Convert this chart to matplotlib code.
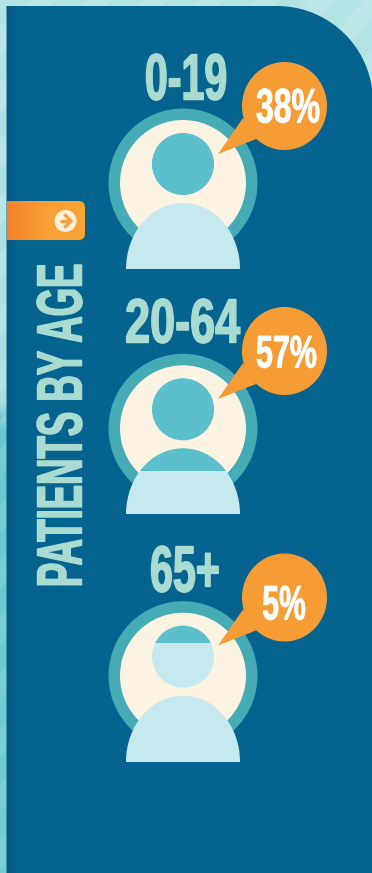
import numpy as np
import matplotlib
matplotlib.use("Agg")
import matplotlib.pyplot as plt
from matplotlib.patches import Circle, Ellipse, Rectangle, Polygon, PathPatch, FancyBboxPatch
from matplotlib.path import Path
from matplotlib.patheffects import AbstractPathEffect
from matplotlib.transforms import Affine2D, Bbox
from matplotlib.colors import LinearSegmentedColormap

# Values
age_groups = ["0-19", "20-64", "65+"]
patient_share = [38, 57, 5]
share_labels = ["38%", "57%", "5%"]
heading = "PATIENTS BY AGE"

# Palette
PANEL = "#05638f"
RING = "#45abb5"
CREAM = "#fdf3e2"
TEAL = "#5cbfcc"
PALE = "#c6e9ef"
ORANGE = "#f69c35"
MINT = "#a9dbd0"

W, H = 372, 873
FONT = "Liberation Sans"


class Condense(AbstractPathEffect):
    """Narrows a text run along its baseline, about its own centre."""

    def __init__(self, factor, stroke=0.0):
        super().__init__()
        self.factor = factor
        self.stroke = stroke

    def draw_path(self, renderer, gc, tpath, affine, rgbFace=None):
        ext = tpath.get_extents()
        cx = (ext.x0 + ext.x1) / 2
        squeeze = Affine2D().translate(-cx, 0).scale(self.factor, 1).translate(cx, 0)
        gc2 = renderer.new_gc()
        gc2.copy_properties(gc)
        gc2.set_linewidth(self.stroke)
        gc2.set_foreground(rgbFace)
        renderer.draw_path(gc2, tpath, squeeze + affine, rgbFace)
        gc2.restore()


def condensed_text(ax, x, y, s, size, factor, color, stroke=1.1, **kw):
    """Places bold text narrowed by factor; its reported extent follows the narrowing."""
    t = ax.text(x, y, s, family=FONT, weight="bold", fontsize=size, color=color,
                path_effects=[Condense(factor, stroke)], zorder=5, **kw)
    full_extent = t.get_window_extent
    vertical = t.get_rotation() == 90

    def narrowed(renderer=None, dpi=None):
        b = full_extent(renderer, dpi)
        if vertical:
            mid, half = (b.y0 + b.y1) / 2, b.height / 2 * factor
            return Bbox.from_extents(b.x0, mid - half, b.x1, mid + half)
        mid, half = (b.x0 + b.x1) / 2, b.width / 2 * factor
        return Bbox.from_extents(mid - half, b.y0, mid + half, b.y1)

    t.get_window_extent = narrowed
    return t


fig = plt.figure(figsize=(W / 100, H / 100), dpi=100)
ax = fig.add_axes([0, 0, 1, 1])
ax.set_xlim(0, W)
ax.set_ylim(H, 0)
ax.axis("off")

# Striped backdrop: pale upper part, deeper teal from mid-height down
yy, xx = np.mgrid[0:H, 0:W]
shade = np.clip((yy - 395) / 40, 0, 1) * 0.6 + (yy / H) * 0.25
stripes = ((xx + yy) % 56 < 28) * 0.12
backdrop = np.clip(shade + stripes, 0, 1)
back_cmap = LinearSegmentedColormap.from_list("back", ["#bce7e7", "#a6dcdd", "#62c6cd", "#7fd0d5"])
ax.imshow(backdrop, cmap=back_cmap, vmin=0, vmax=1, extent=(0, W, H, 0), aspect="auto", zorder=0)

# Main panel with its rounded upper right corner
R = 96
left, top = 6.5, 6
verts = [(left, H + 5), (left, top), (W - R + 1, top)]
codes = [Path.MOVETO, Path.LINETO, Path.LINETO]
theta = np.linspace(-np.pi / 2, 0, 40)[1:]
for t in theta:
    verts.append((W - R + 1 + R * np.cos(t), top + R + R * np.sin(t)))
    codes.append(Path.LINETO)
verts += [(W + 5, H + 5), (left, H + 5)]
codes += [Path.LINETO, Path.CLOSEPOLY]
panel = PathPatch(Path(verts, codes), fc=PANEL, ec="none", zorder=1)
ax.add_patch(panel)

# Soft inner shadow along the panel's left edge
edge = ax.imshow(np.linspace(0, 1, 12)[None, :],
                 cmap=LinearSegmentedColormap.from_list("edge", ["#04577d", PANEL]),
                 extent=(left, left + 10, H, top), aspect="auto", zorder=1.1)

# Orange tab with a gradient and arrow button
tab = FancyBboxPatch((-6, 201), 91, 39, boxstyle="round,pad=0,rounding_size=6.5",
                     fc="none", ec="none", zorder=2)
ax.add_patch(tab)
tab_img = ax.imshow(np.linspace(0, 1, 80)[None, :],
                    cmap=LinearSegmentedColormap.from_list("tab", ["#f5812b", "#f9a035", "#f9a436"]),
                    extent=(6.5, 85, 240, 201), aspect="auto", zorder=2)
tab_img.set_clip_path(tab)
ax.add_patch(Circle((65.5, 221), 11, fc="#fdf0d8", ec="none", zorder=3))
ax.plot([59.5, 71], [221, 221], color="#f5a13c", lw=2.3, solid_capstyle="butt", zorder=4)
ax.plot([65.5, 71, 65.5], [215.5, 221, 226.5], color="#f5a13c", lw=2.3,
        solid_joinstyle="miter", zorder=4)

ax.set_xlim(0, W)
ax.set_ylim(H, 0)

condensed_text(ax, 81.5, 426, heading, 46, 0.572, MINT, rotation=90, rotation_mode="anchor",
               ha="center", va="baseline")

# Vertical placement of each figure: ring centre, bubble centre, caption and label baselines
ring_cy = [183, 428.3, 675.7]
bubble_cy = [106, 351, 597.5]
caption_base = [99.5, 342.5, 591.5]
caption_x = [186, 182.5, 185]
caption_size = [47, 45, 47]
caption_squeeze = [0.63, 0.72, 0.63]
label_x = [288, 286.5, 284]
label_base = [122.5, 367.5, 619.5]
label_size = [35, 33, 35]
label_squeeze = [0.66, 0.665, 0.62]

CX = 183
for i, group in enumerate(age_groups):
    cy = ring_cy[i]
    ax.add_patch(Circle((CX, cy), 74.5, fc=RING, ec="none", zorder=2))
    ax.add_patch(Circle((CX, cy), 63, fc=CREAM, ec="none", zorder=2.1))

    head_c = (CX, cy - 19)
    head_r = 31
    body_c = (CX, cy + 86)
    head_top = head_c[1] - head_r

    # Silhouette in the pale tone, then the teal part above the share's level
    ax.add_patch(Circle(head_c, head_r, fc=PALE, ec="none", zorder=3))
    ax.add_patch(Ellipse(body_c, 114, 132, fc=PALE, ec="none", zorder=3)).set_clip_path(
        Rectangle((0, 0), W, body_c[1], transform=ax.transData))
    level = head_top + (body_c[1] - head_top) * (patient_share[i] / 100) ** 0.68
    clip = Rectangle((0, 0), W, level, transform=ax.transData)
    ax.add_patch(Circle(head_c, head_r, fc=TEAL, ec="none", zorder=3.1)).set_clip_path(clip)
    ax.add_patch(Ellipse(body_c, 114, 132, fc=TEAL, ec="none", zorder=3.1)).set_clip_path(clip)

    # Speech bubble pointing at the head
    by = bubble_cy[i]
    ax.add_patch(Ellipse((284.5, by), 85, 88, fc=ORANGE, ec="none", zorder=4))
    ax.add_patch(Polygon([(218, by + 48), (243, by + 12), (256, by + 33)],
                         closed=True, fc=ORANGE, ec="none", zorder=4))

    condensed_text(ax, caption_x[i], caption_base[i], group, caption_size[i],
                   caption_squeeze[i], MINT, ha="center", va="baseline")
    condensed_text(ax, label_x[i], label_base[i], share_labels[i], label_size[i],
                   label_squeeze[i], "white", stroke=0.6, ha="center", va="baseline")

fig.savefig("out.png", dpi=100)
